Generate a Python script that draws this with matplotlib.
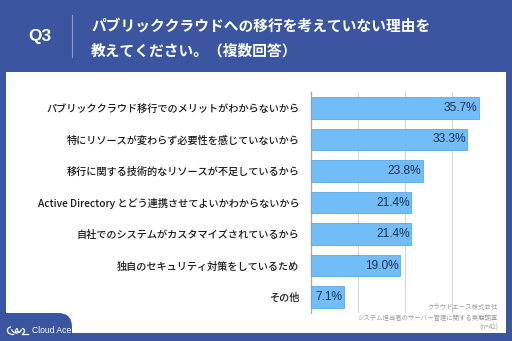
import matplotlib
matplotlib.use("Agg")
import matplotlib.pyplot as plt
from matplotlib.patches import Rectangle, FancyBboxPatch, Arc

plt.rcParams['font.family'] = ['Noto Sans CJK JP', 'DejaVu Sans']

# データ
categories = [
    "パブリッククラウド移行でのメリットがわからないから",
    "特にリソースが変わらず必要性を感じていないから",
    "移行に関する技術的なリソースが不足しているから",
    "Active Directory とどう連携させてよいかわからないから",
    "自社でのシステムがカスタマイズされているから",
    "独自のセキュリティ対策をしているため",
    "その他",
]
values = [35.7, 33.3, 23.8, 21.4, 21.4, 19.0, 7.1]
xticks = [0, 10, 20, 30, 40]

title_lines = ["パブリッククラウドへの移行を考えていない理由を",
               "教えてください。（複数回答）"]
source_lines = ["クラウドエース株式会社",
                "システム担当者のサーバー管理に関する実態調査",
                "(n=42)"]

NAVY = "#3b55a1"
BAR = "#72bdf7"
BAR_EDGE = "#58a9ee"
TEXT = "#1a1a1a"
VAL = "#1f2f52"

W, H = 512, 341
fig = plt.figure(figsize=(W / 100, H / 100), dpi=100)
fig.patch.set_facecolor(NAVY)

# 背景（ピクセル座標）
bg = fig.add_axes([0, 0, 1, 1])
bg.set_xlim(0, W)
bg.set_ylim(H, 0)
bg.axis("off")
bg.add_patch(Rectangle((6, 72), 500, 261, facecolor="white", edgecolor="none"))

# ヘッダー
bg.text(40, 36, "Q3", color="white", fontsize=12.5, fontweight="bold",
        ha="center", va="center", family=["Liberation Sans"])
bg.plot([72, 72], [15, 57], color="#8a9ccc", lw=0.8)
bg.text(91, 26, title_lines[0], color="white", fontsize=10.6, fontweight="bold",
        ha="left", va="center")
bg.text(91, 51, title_lines[1], color="white", fontsize=10.6, fontweight="bold",
        ha="left", va="center")

# ロゴのタブ
bg.add_patch(FancyBboxPatch((-30, 313), 102, 60,
                            boxstyle="round,pad=0,rounding_size=14",
                            facecolor=NAVY, edgecolor="none"))
# 雲のアイコン
bg.add_patch(Arc((11, 330.5), 7, 7, theta1=90, theta2=270, color="white", lw=0.9))
bg.add_patch(Arc((16.5, 328.5), 10, 9, theta1=10, theta2=170, color="white", lw=0.9))
bg.add_patch(Arc((22, 331), 5, 5, theta1=-90, theta2=80, color="white", lw=0.9))
bg.plot([11, 13], [334, 334], color="white", lw=0.9)
bg.plot([22, 28], [333.5, 333.5], color="white", lw=0.9)
bg.text(16.5, 331.5, "A", color="white", fontsize=5.5, fontweight="bold",
        ha="center", va="center", family=["Liberation Sans"])
bg.text(32, 330.5, "Cloud Ace", color="white", fontsize=6.2,
        ha="left", va="center", family=["Liberation Sans"])

# 出典
for i, s in enumerate(source_lines):
    bg.text(498, 307 + i * 10.5, s, color="#9a9a9a", fontsize=4.6,
            ha="right", va="center")

# グラフ本体
ax = fig.add_axes([310.5 / W, 28 / H, 188.5 / W, 221 / H])
ax.set_facecolor("none")
ypos = list(range(len(categories)))
ax.barh(ypos, values, height=0.68, color=BAR, edgecolor=BAR_EDGE, linewidth=0.6, zorder=3)
ax.set_xlim(0, 40)
ax.set_ylim(len(categories) - 0.5, -0.5)
ax.set_xticks(xticks)
ax.xaxis.grid(True, color="#d6d6d6", lw=0.8, zorder=0)
ax.tick_params(axis="x", length=0, labelbottom=False)
ax.tick_params(axis="y", length=0, pad=8)
ax.set_yticks(ypos)
ax.set_yticklabels(categories, fontsize=7.3, color=TEXT, fontweight="medium")
for side in ["top", "right", "bottom"]:
    ax.spines[side].set_visible(False)
ax.spines["left"].set_color("#aaaaaa")
ax.spines["left"].set_linewidth(0.9)

for y, v in zip(ypos, values):
    ax.text(v - 0.3, y, f"{v:.1f}%", ha="right", va="center", fontsize=8.6,
            color=VAL, family=["Liberation Sans"], zorder=4)

fig.savefig("out.png", dpi=100, facecolor=fig.get_facecolor())
